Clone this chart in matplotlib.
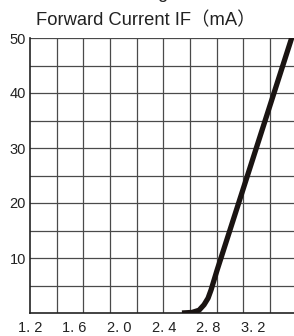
import matplotlib
matplotlib.use("Agg")
import matplotlib.pyplot as plt
import numpy as np

# Data (Forward voltage V vs forward current mA)
voltage = [2.563, 2.653, 2.716, 2.761, 2.797, 2.824, 2.851, 2.878, 3.55]
current = [0.0, 0.1, 0.5, 1.5, 2.7, 4.2, 6.0, 7.8, 50.2]

x_tick_vals = [1.2, 1.6, 2.0, 2.4, 2.8, 3.2]
x_tick_labels = ["1. 2", "1. 6", "2. 0", "2. 4", "2. 8", "3. 2"]
y_tick_vals = [10, 20, 30, 40, 50]
y_tick_labels = ["10", "20", "30", "40", "50"]
title = "Forward Current IF（mA）"

W, H = 294, 336
fig = plt.figure(figsize=(W / 100, H / 100), dpi=100)
left, right, top, bottom = 30, 294, 38, 313
ax = fig.add_axes([left / W, 1 - bottom / H, (right - left) / W, (bottom - top) / H])

xmin = 1.2
px_per_v = 111.5
xmax = xmin + (right - left) / px_per_v
ax.set_xlim(xmin, xmax)
ax.set_ylim(0, 50)

# grid
gstep = 26.67 / px_per_v
for k in range(1, 12):
    gx = xmin + k * gstep
    if gx < xmax:
        ax.axvline(gx, color="#4a4a4a", lw=0.9, zorder=1)
for gy in np.arange(5, 51, 5):
    ax.axhline(gy, color="#4a4a4a", lw=0.9, zorder=1)

ax.plot(voltage, current, color="#1a1412", lw=3.8, solid_capstyle="butt",
        solid_joinstyle="round", zorder=3)

for s in ["top", "right"]:
    ax.spines[s].set_visible(False)
for s in ["left", "bottom"]:
    ax.spines[s].set_color("#222222")
    ax.spines[s].set_linewidth(1.2)

ax.set_xticks(x_tick_vals)
ax.set_xticklabels(x_tick_labels)
ax.set_yticks(y_tick_vals)
ax.set_yticklabels(y_tick_labels)
ax.tick_params(length=0, labelsize=10.5, colors="#222222")
ax.tick_params(axis="x", pad=6)
ax.tick_params(axis="y", pad=3)
for lab in ax.get_xticklabels() + ax.get_yticklabels():
    lab.set_family(["Liberation Sans", "DejaVu Sans"])

fig.text(146 / W, 1 - 21 / H, title, ha="center", va="center", fontsize=13.2,
         family=["Liberation Sans", "Noto Sans CJK SC"], color="#222222")
fig.text(162 / W, 1 - (-6) / H, "g", ha="center", va="center", fontsize=13.2,
         family=["Liberation Sans"], color="#222222")

fig.savefig("out.png", dpi=100)
